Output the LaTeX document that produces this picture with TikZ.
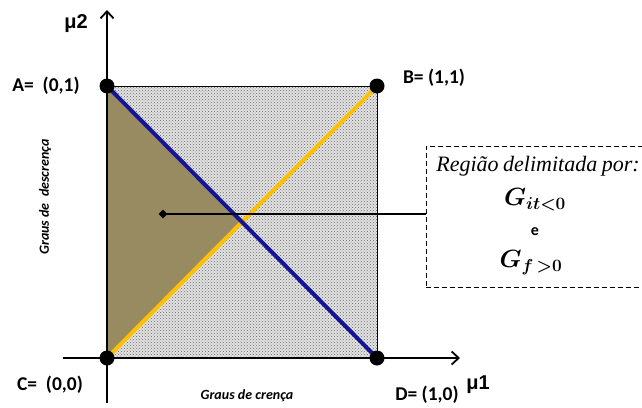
\documentclass[tikz,border=0pt]{standalone}
\usepackage{fontspec}
\setmainfont{Carlito}
\newfontfamily\arialfont{Liberation Sans}
\newfontfamily\seriffont{Liberation Serif}
\usetikzlibrary{patterns,arrows.meta,shapes.geometric}
\definecolor{olive2}{RGB}{152,139,98}
\definecolor{navy2}{RGB}{20,20,150}
\definecolor{gold2}{RGB}{255,192,0}
\tikzset{
  axis/.style={line width=1.8pt,-{Straight Barb[length=7pt,width=13pt,line width=1.8pt]}},
  ptlabel/.style={font=\fontsize{19.5}{22}\selectfont\bfseries,inner sep=0pt},
  mulabel/.style={font=\arialfont\fontsize{20}{22}\selectfont\bfseries,inner sep=0pt},
  smalllabel/.style={font=\fontsize{14}{16}\selectfont\bfseries\itshape,inner sep=0pt},
  dot/.style={circle,fill=black,minimum size=15pt,inner sep=0pt},
}
\begin{document}
\begin{tikzpicture}[x=1pt,y=-1pt]
\useasboundingbox (0,0) rectangle (642,407);
% corners
\coordinate (A) at (107,86);
\coordinate (B) at (377,86);
\coordinate (C) at (107,358);
\coordinate (D) at (377,358);
\coordinate (M) at (242,222);
% fills
\fill[gray!22] (A) -- (B) -- (D) -- (C) -- cycle;
\fill[pattern=crosshatch dots,pattern color=gray!80!black] (A) -- (B) -- (D) -- (C) -- cycle;
\fill[olive2] (A) -- (M) -- (C) -- cycle;
\draw[line width=0.9pt] (A) -- (B) -- (D) -- (C) -- cycle;
% diagonals
\draw[gold2,line width=4pt] (C) -- (B);
\draw[navy2,line width=4pt] (A) -- (D);
% axes
\coordinate (ytop) at (107,10);
\coordinate (ybot) at (107,403);
\coordinate (xl) at (63,358);
\coordinate (xr) at (460,358);
\draw[axis] (ybot) -- (ytop);
\draw[axis] (xl) -- (xr);
% dots
\node[dot] (dA) at (A) {};
\node[dot] (dB) at (B) {};
\node[dot] (dC) at (C) {};
\node[dot] (dD) at (D) {};
% labels
\node[mulabel] (mu2) at (76,24) {μ2};
\node[mulabel] (mu1) at (478,385) {μ1};
\node[ptlabel] (lA) at (46,86) {A=\ \ (0,1)};
\node[ptlabel] (lB) at (434,78) {B= (1,1)};
\node[ptlabel] (lC) at (50,385) {C=\ \ (0,0)};
\node[ptlabel] (lD) at (427,395) {D= (1,0)};
\node[smalllabel] (xlab) at (247,396) {Graus de crença};
\node[smalllabel,rotate=90] (ylab) at (45,197) {Graus de\ \ descrença};
% box
\node[draw,line width=0.9pt,dash pattern=on 5pt off 3pt,minimum width=230pt,minimum height=141pt,anchor=north west,inner sep=0pt] (box) at (426,146) {};
\node[font=\seriffont\fontsize{22}{24}\selectfont\itshape,inner sep=0pt] (t1) at (538,166) {Região\hspace{-1pt} delimitada\hspace{-1pt} por:};
\node[inner sep=0pt,font=\fontsize{24}{28}\selectfont\boldmath] (t2) at (535,200) {$G_{it\scriptstyle<0}$};
\node[inner sep=0pt,font=\fontsize{16}{18}\selectfont\bfseries] (t3) at (535,232) {e};
\node[inner sep=0pt,font=\fontsize{24}{28}\selectfont\boldmath] (t4) at (531,263) {$G_{f\,>0}$};
% pointer
\node[diamond,fill=black,inner sep=0pt,minimum size=9pt] (pt) at (163,214) {};
\draw[line width=1.1pt] (pt.center) -- (box.west |- pt.center);
\end{tikzpicture}
\end{document}
